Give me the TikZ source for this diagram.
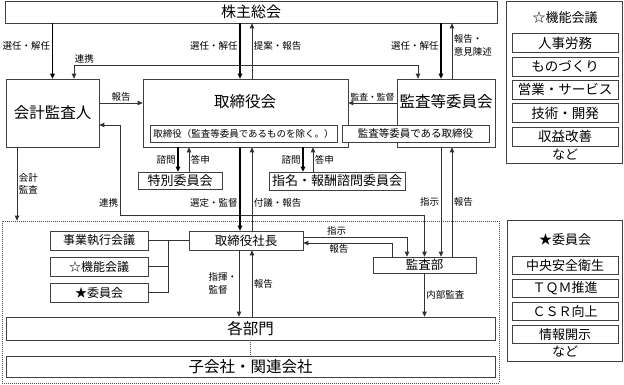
\documentclass[tikz,border=0pt]{standalone}
\usepackage{fontspec}
\setmainfont{Noto Sans CJK JP}
\usetikzlibrary{arrows.meta}

\newcommand{\fsz}[1]{\fontsize{#1}{#1}\selectfont}

\tikzset{
  box/.style={draw=black!75, line width=0.7pt, fill=white, inner sep=0pt},
  lbl/.style={font=\fontsize{9.5}{12.5}\selectfont, inner sep=1.5pt},
  ln/.style={draw=black!80, line width=0.8pt},
  bln/.style={draw=black, line width=1.7pt},
  dots/.style={draw=black!70, line width=0.7pt, dash pattern=on 0.8pt off 1.2pt},
}

\begin{document}
\begin{tikzpicture}[>={Triangle[length=5pt,width=4.5pt]}, x=1pt, y=-1pt]
  \useasboundingbox (0,0) rectangle (624,384);

  % execution side
  \node[dots, inner sep=0pt, minimum width=497, minimum height=162] (naibu) at (250.5,302) {};

  % governance
  \node[box, minimum width=492, minimum height=22, font=\fsz{15}] (kabu) at (251,12) {株主総会};
  \node[box, minimum width=93, minimum height=68, font=\fsz{15.5}] (kaikei) at (52.5,113) {会計監査人};
  \node[box, minimum width=205, minimum height=68] (tori) at (245.5,113) {};
  \node[font=\fsz{15.5}] (toriname) at (245,102) {取締役会};
  \node[box, minimum width=98, minimum height=68] (kansa) at (446,113) {};
  \node[font=\fsz{15.5}] (kansaname) at (446,102) {監査等委員会};
  \node[box, minimum width=187, minimum height=17, font=\fsz{9.5}] (torisub) at (243.5,133.5) {取締役（監査等委員であるものを除く。）};
  \node[box, minimum width=147, minimum height=17, font=\fsz{10.5}] (kansasub) at (415.5,133.5) {監査等委員である取締役};
  \node[box, minimum width=84, minimum height=17, font=\fsz{13}] (tokubetsu) at (180,180.5) {特別委員会};
  \node[box, minimum width=136, minimum height=18, font=\fsz{13}] (shimei) at (337,181) {指名・報酬諮問委員会};

  % execution
  \node[box, minimum width=114, minimum height=19, font=\fsz{12.5}] (shacho) at (246,240.5) {取締役社長};
  \node[box, minimum width=98, minimum height=19, font=\fsz{12}] (jigyo) at (99,240.5) {事業執行会議};
  \node[box, minimum width=98, minimum height=19, font=\fsz{12}] (kinokaigi) at (99,266.5) {☆機能会議};
  \node[box, minimum width=98, minimum height=19, font=\fsz{12}] (iinkai) at (99,292.5) {★委員会};
  \node[box, minimum width=103, minimum height=16, font=\fsz{12.5}] (kansabu) at (424.5,265) {監査部};
  \node[box, minimum width=489, minimum height=23, font=\fsz{15.5}] (kakubu) at (250.5,328.5) {各部門};
  \node[box, minimum width=489, minimum height=21, font=\fsz{15.5}] (kogaisha) at (250.5,366.5) {子会社・関連会社};

  % shareholders
  \draw[->, bln] (kabu.south -| kaikei.north) -- (kaikei.north)
    node[lbl, left, pos=0.4] {選任・解任};
  \draw[->, bln] ([xshift=-5.5]tori.north |- kabu.south) -- ([xshift=-5.5]tori.north)
    node[lbl, left, pos=0.4] {選任・解任};
  \draw[->, ln] ([xshift=6.5]tori.north) -- ([xshift=6.5]tori.north |- kabu.south)
    node[lbl, right, pos=0.6] {提案・報告};
  \draw[->, bln] ([xshift=-5]kansa.north |- kabu.south) -- ([xshift=-5]kansa.north)
    node[lbl, left, pos=0.4] {選任・解任};
  \draw[->, ln] ([xshift=6]kansa.north) -- ([xshift=6]kansa.north |- kabu.south)
    node[lbl, right, align=left, pos=0.6] {報告・\\意見陳述};

  % liaison
  \coordinate (renkei) at (0,65);
  \draw[<->, ln] ([xshift=21.5]kaikei.north) -- ([xshift=21.5]kaikei.north |- renkei)
    -- node[lbl, above, pos=0.03] {連携} ([xshift=-28]kansa.north |- renkei)
    -- ([xshift=-28]kansa.north);
  \coordinate (renkei2) at (120,215);
  \draw[<->, ln] ([yshift=-12]kaikei.east) -| node[lbl, left, pos=0.93] {連携} (renkei2)
    -| (kansabu.north);

  % board level
  \draw[->, ln] ([yshift=10]kaikei.east) -- ([yshift=10]kaikei.east -| tori.west)
    node[lbl, above, midway] {報告};
  \draw[->, ln] ([yshift=10]kansa.west) -- ([yshift=10]kansa.west -| tori.east)
    node[lbl, above, midway, font=\fsz{8.8}] {監査・監督};
  \draw[->, bln] ([xshift=-2]tokubetsu.north |- tori.south) -- ([xshift=-2]tokubetsu.north)
    node[lbl, left, midway] {諮問};
  \draw[->, ln] ([xshift=9]tokubetsu.north) -- ([xshift=9]tokubetsu.north |- tori.south)
    node[lbl, right, midway] {答申};
  \draw[->, bln] ([xshift=-34]shimei.north |- tori.south) -- ([xshift=-34]shimei.north)
    node[lbl, left, midway] {諮問};
  \draw[->, ln] ([xshift=-24]shimei.north) -- ([xshift=-24]shimei.north |- tori.south)
    node[lbl, right, midway] {答申};
  \draw[->, bln] ([xshift=-6]shacho.north |- tori.south) -- ([xshift=-6]shacho.north)
    node[lbl, left, pos=0.67] {選定・監督};
  \draw[->, ln] ([xshift=6]shacho.north) -- ([xshift=6]shacho.north |- tori.south)
    node[lbl, right, pos=0.33] {付議・報告};
  \draw[->, ln] ([xshift=-5]kansa.south) -- ([xshift=-5]kansa.south |- kansabu.north)
    node[lbl, left, midway] {指示};
  \draw[->, ln] ([xshift=6]kansa.south |- kansabu.north) -- ([xshift=6]kansa.south)
    node[lbl, right, midway] {報告};
  \draw[->, ln] ([xshift=-35.5]kaikei.south) -- ([xshift=-35.5]kaikei.south |- naibu.north)
    node[lbl, right, align=left, midway] {会計\\監査};

  % execution level
  \coordinate (bus) at (168,240.5);
  \draw[ln] (jigyo.east) -- (shacho.west);
  \draw[ln] (kinokaigi.east) -| (bus);
  \draw[ln] (iinkai.east) -| (bus);
  \draw[->, ln] ([yshift=3.5]shacho.east) -| ([xshift=-17.5]kansabu.north)
    node[lbl, above, pos=0.16] {指示};
  \draw[->, ln] ([xshift=-32.5]kansabu.north) |- ([yshift=-2.5]shacho.east)
    node[lbl, below, pos=0.8] {報告};
  \draw[->, ln] ([xshift=-7]shacho.south) -- ([xshift=-7]shacho.south |- kakubu.north)
    node[lbl, left, align=left, midway] {指揮・\\監督};
  \draw[->, ln] ([xshift=6]shacho.south |- kakubu.north) -- ([xshift=6]shacho.south)
    node[lbl, right, midway] {報告};
  \draw[->, ln] (kansabu.south) -- (kansabu.south |- kakubu.north)
    node[lbl, right, midway] {内部監査};
  \draw[dots] (kakubu.south) -- (kogaisha.north);

  % side panels
  \node[box, minimum width=116.5, minimum height=161.5] (kinolist) at (564.25,82.25) {};
  \node[font=\fsz{13}] (kinotitle) at (565,18) {☆機能会議};
  \foreach \itm [count=\i] in {人事労務, ものづくり, 営業・サービス, 技術・開発, 収益改善}
    \node[box, minimum width=106, minimum height=19, font=\fsz{13.5}] (kino\i) at (565,{43+23.4*(\i-1)}) {\itm};
  \node[font=\fsz{13}] (kinoetc) at (565,155) {など};

  \node[box, minimum width=115.5, minimum height=141] (iinlist) at (564.75,290.5) {};
  \node[font=\fsz{13}] (iintitle) at (565,240) {★委員会};
  \foreach \itm [count=\i] in {中央安全衛生, ＴＱＭ推進, ＣＳＲ向上, 情報開示}
    \node[box, minimum width=106, minimum height=18, font=\fsz{13}] (iin\i) at (565,{265.5+23*(\i-1)}) {\itm};
  \node[font=\fsz{13}] (iinetc) at (565,352) {など};
\end{tikzpicture}
\end{document}
